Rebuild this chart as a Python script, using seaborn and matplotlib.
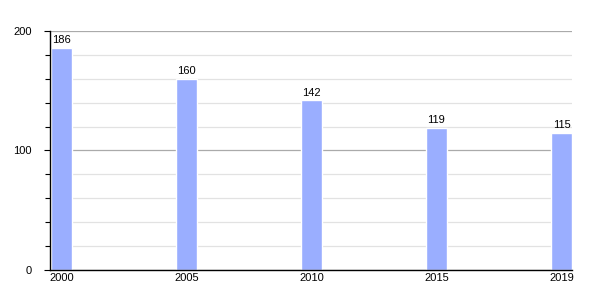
import matplotlib
matplotlib.use("Agg")
import matplotlib.pyplot as plt
import seaborn as sns
import pandas as pd
from matplotlib.ticker import MultipleLocator

years = ["2000", "2005", "2010", "2015", "2019"]
values = [186, 160, 142, 119, 115]

sns.set_theme(style="white")
plt.rcParams['font.family'] = ['Liberation Sans', 'DejaVu Sans']

df = pd.DataFrame({"year": years, "value": values})

fig = plt.figure(figsize=(6, 3), dpi=100)
ax = fig.add_axes([0.083, 0.1, 0.870, 0.797])

w = 0.165
sns.barplot(data=df, x="year", y="value", color="#9AAEFF", saturation=1,
            width=w, ax=ax, zorder=2)

ax.set_xlim(-w / 2 - 0.01, len(years) - 1 + w / 2)
ax.set_ylim(0, 200)
ax.yaxis.set_major_locator(MultipleLocator(100))
ax.yaxis.set_minor_locator(MultipleLocator(20))
ax.grid(which="major", axis="y", color="#aaaaaa", linewidth=0.9, zorder=0)
ax.grid(which="minor", axis="y", color="#e2e2e2", linewidth=0.9, zorder=0)
ax.grid(axis="x", visible=False)
ax.set_axisbelow(True)

for s in ["top", "right"]:
    ax.spines[s].set_visible(False)
for s in ["left", "bottom"]:
    ax.spines[s].set_color("black")
    ax.spines[s].set_linewidth(1.0)
    ax.spines[s].set_zorder(4)

ax.tick_params(axis="y", which="major", length=4, width=0.8, color="black",
               labelsize=8, pad=9, left=True, labelcolor="black")
ax.tick_params(axis="y", which="minor", length=3.5, width=0.8, color="black", left=True)
ax.tick_params(axis="x", length=0, labelsize=8, pad=2, labelcolor="black")
ax.set_xlabel("")
ax.set_ylabel("")

for i, v in enumerate(values):
    ax.text(i, v + 2, str(v), ha="center", va="bottom", fontsize=8, color="black")

fig.savefig("out.png", dpi=100)
